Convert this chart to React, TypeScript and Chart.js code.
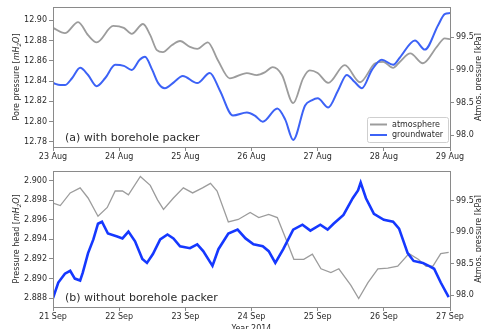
import React, { useEffect, useRef } from 'react';
import { Chart, registerables } from 'chart.js';

Chart.register(...registerables);

const FONT = '"DejaVu Sans", "Liberation Sans", sans-serif';
const TEXT = '#2a2a2a';
const SPINE = '#8a8a8a';
const GRAY = '#9c9c9c';
const BLUE_A = '#3c62f6';
const BLUE_B = '#1538ff';

// ---------- Panel (a): with borehole packer, 23-29 Aug ----------
const dayTicks = [0, 1, 2, 3, 4, 5, 6];
const augLabels = ['23 Aug', '24 Aug', '25 Aug', '26 Aug', '27 Aug', '28 Aug', '29 Aug'];
const poreTicks = [12.78, 12.8, 12.82, 12.84, 12.86, 12.88, 12.9];
const atmosTicks = [98.0, 98.5, 99.0, 99.5];

// groundwater, pore pressure [mH2O]
const gwDaysA = [0, 0.11, 0.18, 0.29, 0.41, 0.53, 0.66, 0.79, 0.94, 1.07, 1.19, 1.31, 1.39, 1.5, 1.59, 1.69, 1.83, 1.96, 2.18, 2.37, 2.52, 2.72, 2.93, 3.05, 3.17, 3.39, 3.51, 3.63, 3.81, 3.91, 4.0, 4.16, 4.31, 4.44, 4.56, 4.67, 4.82, 4.97, 5.14, 5.24, 5.47, 5.62, 5.82, 5.92, 6.0];
const gwValsA = [12.838, 12.836, 12.836, 12.843, 12.853, 12.846, 12.835, 12.843, 12.856, 12.855, 12.851, 12.861, 12.864, 12.851, 12.838, 12.833, 12.839, 12.845, 12.838, 12.848, 12.831, 12.806, 12.809, 12.806, 12.8, 12.813, 12.802, 12.782, 12.816, 12.821, 12.823, 12.814, 12.831, 12.846, 12.839, 12.833, 12.851, 12.861, 12.856, 12.863, 12.88, 12.871, 12.895, 12.906, 12.907];

// atmosphere [kPa]
const atDaysA = [0, 0.18, 0.38, 0.53, 0.66, 0.91, 1.07, 1.19, 1.36, 1.47, 1.57, 1.66, 1.8, 1.92, 2.07, 2.18, 2.34, 2.49, 2.67, 2.93, 3.08, 3.2, 3.32, 3.46, 3.63, 3.78, 3.88, 4.0, 4.16, 4.41, 4.64, 4.87, 4.99, 5.14, 5.24, 5.4, 5.59, 5.8, 5.92, 6.0];
const atValsA = [99.64, 99.56, 99.73, 99.53, 99.42, 99.67, 99.64, 99.55, 99.7, 99.53, 99.3, 99.27, 99.38, 99.44, 99.35, 99.32, 99.42, 99.15, 98.87, 98.95, 98.92, 98.96, 99.04, 98.92, 98.49, 98.87, 98.99, 98.95, 98.8, 99.07, 98.81, 99.1, 99.12, 99.03, 99.12, 99.25, 99.1, 99.35, 99.48, 99.47];

// ---------- Panel (b): without borehole packer, 21-27 Sep ----------
const sepLabels = ['21 Sep', '22 Sep', '23 Sep', '24 Sep', '25 Sep', '26 Sep', '27 Sep'];
const headTicks = [2.888, 2.89, 2.892, 2.894, 2.896, 2.898, 2.9];

// groundwater, pressure head [mH2O]
const gwDaysB = [0, 0.08, 0.18, 0.26, 0.33, 0.41, 0.45, 0.53, 0.61, 0.68, 0.74, 0.83, 0.97, 1.05, 1.14, 1.24, 1.35, 1.42, 1.51, 1.62, 1.73, 1.82, 1.92, 2.07, 2.18, 2.27, 2.41, 2.5, 2.65, 2.79, 2.91, 3.03, 3.17, 3.26, 3.36, 3.48, 3.63, 3.77, 3.89, 4.04, 4.15, 4.24, 4.39, 4.53, 4.61, 4.65, 4.73, 4.85, 5.0, 5.14, 5.23, 5.36, 5.45, 5.59, 5.68, 5.76, 5.86, 5.98];
const gwValsB = [2.888, 2.8896, 2.8905, 2.8908, 2.89, 2.8898, 2.8906, 2.8926, 2.894, 2.8956, 2.8958, 2.8946, 2.8943, 2.8941, 2.8948, 2.8938, 2.892, 2.8916, 2.8925, 2.894, 2.8945, 2.8941, 2.8933, 2.8931, 2.8935, 2.8928, 2.8913, 2.893, 2.8946, 2.895, 2.8941, 2.8935, 2.8933, 2.8928, 2.8916, 2.893, 2.895, 2.8955, 2.8949, 2.8955, 2.895, 2.8956, 2.8965, 2.8982, 2.899, 2.8998, 2.8982, 2.8966, 2.896, 2.8958, 2.8951, 2.8926, 2.8918, 2.8916, 2.8913, 2.891, 2.8896, 2.8881];

// atmosphere [kPa]
const atDaysB = [0, 0.11, 0.26, 0.41, 0.53, 0.68, 0.82, 0.94, 1.05, 1.14, 1.32, 1.47, 1.58, 1.67, 1.82, 1.97, 2.11, 2.26, 2.38, 2.48, 2.65, 2.8, 2.98, 3.11, 3.26, 3.39, 3.52, 3.64, 3.79, 3.92, 4.05, 4.2, 4.32, 4.5, 4.62, 4.76, 4.91, 5.06, 5.21, 5.38, 5.52, 5.64, 5.74, 5.86, 5.98];
const atValsB = [99.46, 99.42, 99.62, 99.7, 99.54, 99.25, 99.39, 99.65, 99.65, 99.59, 99.88, 99.74, 99.51, 99.36, 99.54, 99.7, 99.62, 99.7, 99.77, 99.65, 99.16, 99.2, 99.31, 99.23, 99.28, 99.23, 98.89, 98.57, 98.57, 98.65, 98.42, 98.36, 98.42, 98.16, 97.95, 98.2, 98.42, 98.43, 98.46, 98.66, 98.57, 98.46, 98.46, 98.66, 98.68];

type Part = { t: string; it?: boolean; sub?: boolean };

function drawRich(ctx: CanvasRenderingContext2D, parts: Part[], cx: number, cy: number, size: number) {
  const fontOf = (p: Part) => `${p.it ? 'italic ' : ''}${p.sub ? size * 0.7 : size}px ${FONT}`;
  let total = 0;
  for (const p of parts) {
    ctx.font = fontOf(p);
    total += ctx.measureText(p.t).width;
  }
  ctx.save();
  ctx.translate(cx, cy);
  ctx.rotate(-Math.PI / 2);
  ctx.fillStyle = TEXT;
  ctx.textBaseline = 'middle';
  ctx.textAlign = 'left';
  let x = -total / 2;
  for (const p of parts) {
    ctx.font = fontOf(p);
    ctx.fillText(p.t, x, p.sub ? size * 0.3 : 0);
    x += ctx.measureText(p.t).width;
  }
  ctx.restore();
}

type Decor = {
  leftTitle: Part[];
  panelLabel: string;
  legend: boolean;
  xTitle?: string;
};

const decorPlugin = {
  id: 'panelDecor',
  afterDraw(chart: any, _args: any, opts: Decor) {
    const ctx: CanvasRenderingContext2D = chart.ctx;
    const a = chart.chartArea;
    ctx.save();
    // frame
    ctx.strokeStyle = SPINE;
    ctx.lineWidth = 1;
    ctx.strokeRect(Math.round(a.left) + 0.5, Math.round(a.top) + 0.5, Math.round(a.right - a.left), Math.round(a.bottom - a.top));

    // panel label
    ctx.fillStyle = TEXT;
    ctx.font = `11px ${FONT}`;
    ctx.textBaseline = 'middle';
    ctx.textAlign = 'left';
    ctx.fillText(opts.panelLabel, a.left + 12, a.bottom - 9);

    // axis titles
    const cy = (a.top + a.bottom) / 2;
    drawRich(ctx, opts.leftTitle, 17, cy, 8);
    drawRich(ctx, [{ t: 'Atmos. pressure [kPa]' }], 479, cy, 8);

    if (opts.xTitle) {
      ctx.fillStyle = TEXT;
      ctx.font = `8px ${FONT}`;
      ctx.textAlign = 'center';
      ctx.textBaseline = 'top';
      ctx.fillText(opts.xTitle, (a.left + a.right) / 2, chart.height - 4);
    }

    if (opts.legend) {
      const bx = a.right - 83, by = a.bottom - 30, bw = 81, bh = 25;
      ctx.fillStyle = 'rgba(255,255,255,0.85)';
      ctx.strokeStyle = '#cfcfcf';
      ctx.lineWidth = 1;
      ctx.beginPath();
      (ctx as any).roundRect(bx + 0.5, by + 0.5, bw, bh, 2);
      ctx.fill();
      ctx.stroke();
      const rows = [
        { c: GRAY, t: 'atmosphere', y: by + 7.5 },
        { c: BLUE_A, t: 'groundwater', y: by + 18 },
      ];
      for (const r of rows) {
        ctx.strokeStyle = r.c;
        ctx.lineWidth = 2;
        ctx.beginPath();
        ctx.moveTo(bx + 3, r.y);
        ctx.lineTo(bx + 20, r.y);
        ctx.stroke();
        ctx.fillStyle = TEXT;
        ctx.font = `8px ${FONT}`;
        ctx.textAlign = 'left';
        ctx.textBaseline = 'middle';
        ctx.fillText(r.t, bx + 25, r.y);
      }
    }
    ctx.restore();
  },
};

type PanelProps = {
  height: number;
  padTop: number;
  xHeight: number;
  xLabels: string[];
  leftTicks: number[];
  leftMin: number;
  leftMax: number;
  leftDigits: number;
  rightMin: number;
  rightMax: number;
  gwDays: number[];
  gwVals: number[];
  atDays: number[];
  atVals: number[];
  gwColor: string;
  gwWidth: number;
  atWidth: number;
  smooth: boolean;
  decor: Decor;
};

function Panel(p: PanelProps) {
  const ref = useRef<HTMLCanvasElement | null>(null);
  useEffect(() => {
    if (!ref.current) return;
    const tickFont = { family: FONT, size: 8 };
    const axisGrid = { drawOnChartArea: false, drawTicks: true, tickLength: 4, color: SPINE };
    const chart = new Chart(ref.current, {
      type: 'line',
      data: {
        datasets: [
          {
            label: 'groundwater',
            data: p.gwDays.map((d, i) => ({ x: d, y: p.gwVals[i] })),
            borderColor: p.gwColor,
            borderWidth: p.gwWidth,
            pointRadius: 0,
            yAxisID: 'y',
            order: 0,
            tension: p.smooth ? 0.4 : 0,
            cubicInterpolationMode: p.smooth ? 'monotone' : 'default',
          },
          {
            label: 'atmosphere',
            data: p.atDays.map((d, i) => ({ x: d, y: p.atVals[i] })),
            borderColor: GRAY,
            borderWidth: p.atWidth,
            pointRadius: 0,
            yAxisID: 'y1',
            order: 1,
            tension: p.smooth ? 0.4 : 0,
            cubicInterpolationMode: p.smooth ? 'monotone' : 'default',
          },
        ],
      },
      options: {
        animation: false,
        responsive: false,
        maintainAspectRatio: false,
        layout: { padding: { top: p.padTop, left: 0, right: 0, bottom: 0 } },
        plugins: {
          legend: { display: false },
          tooltip: { enabled: false },
          panelDecor: p.decor,
        } as any,
        scales: {
          x: {
            type: 'linear',
            min: 0,
            max: 6,
            afterBuildTicks: (s: any) => {
              s.ticks = dayTicks.map((v) => ({ value: v }));
            },
            afterFit: (s: any) => {
              s.height = p.xHeight;
            },
            ticks: {
              autoSkip: false,
              maxRotation: 0,
              padding: 1,
              font: tickFont,
              color: TEXT,
              callback: (v: any) => p.xLabels[Math.round(Number(v))],
            },
            grid: axisGrid,
            border: { display: false },
          },
          y: {
            type: 'linear',
            position: 'left',
            min: p.leftMin,
            max: p.leftMax,
            afterBuildTicks: (s: any) => {
              s.ticks = p.leftTicks.map((v) => ({ value: v }));
            },
            afterFit: (s: any) => {
              s.width = 53;
            },
            ticks: {
              padding: 2,
              font: tickFont,
              color: TEXT,
              callback: (v: any) => Number(v).toFixed(p.leftDigits),
            },
            grid: axisGrid,
            border: { display: false },
          },
          y1: {
            type: 'linear',
            position: 'right',
            min: p.rightMin,
            max: p.rightMax,
            afterBuildTicks: (s: any) => {
              s.ticks = atmosTicks.map((v) => ({ value: v }));
            },
            afterFit: (s: any) => {
              s.width = 31;
            },
            ticks: {
              padding: 2,
              font: tickFont,
              color: TEXT,
              callback: (v: any) => Number(v).toFixed(1),
            },
            grid: axisGrid,
            border: { display: false },
          },
        },
      } as any,
      plugins: [decorPlugin],
    });
    return () => chart.destroy();
  }, []);
  return <canvas ref={ref} width={481} height={p.height} style={{ display: 'block', width: 481, height: p.height }} />;
}

export default function App() {
  return (
    <div style={{ position: 'absolute', left: 0, top: 0, width: 481, height: 329, background: '#fff', overflow: 'hidden' }}>
      <Panel
        height={164}
        padTop={7}
        xHeight={17}
        xLabels={augLabels}
        leftTicks={poreTicks}
        leftMin={12.775}
        leftMax={12.913}
        leftDigits={2}
        rightMin={97.82}
        rightMax={99.96}
        gwDays={gwDaysA}
        gwVals={gwValsA}
        atDays={atDaysA}
        atVals={atValsA}
        gwColor={BLUE_A}
        gwWidth={2}
        atWidth={1.8}
        smooth={true}
        decor={{
          leftTitle: [{ t: 'Pore pressure [' }, { t: 'mH', it: true }, { t: '2', it: true, sub: true }, { t: 'O', it: true }, { t: ']' }],
          panelLabel: '(a) with borehole packer',
          legend: true,
        }}
      />
      <Panel
        height={165}
        padTop={3}
        xHeight={22}
        xLabels={sepLabels}
        leftTicks={headTicks}
        leftMin={2.8871}
        leftMax={2.901}
        leftDigits={3}
        rightMin={97.815}
        rightMax={99.97}
        gwDays={gwDaysB}
        gwVals={gwValsB}
        atDays={atDaysB}
        atVals={atValsB}
        gwColor={BLUE_B}
        gwWidth={2.6}
        atWidth={1.3}
        smooth={false}
        decor={{
          leftTitle: [{ t: 'Pressure head [' }, { t: 'mH', it: true }, { t: '2', it: true, sub: true }, { t: 'O', it: true }, { t: ']' }],
          panelLabel: '(b) without borehole packer',
          legend: false,
          xTitle: 'Year 2014',
        }}
      />
    </div>
  );
}
